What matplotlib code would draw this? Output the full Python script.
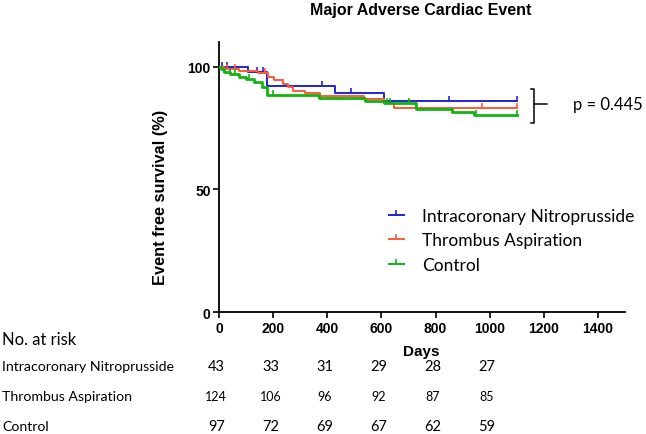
import numpy as np
import matplotlib.pyplot as plt
import matplotlib.transforms as mtransforms
from matplotlib.lines import Line2D

# ---- data ----
groups = ['Intracoronary Nitroprusside', 'Thrombus Aspiration', 'Control']
colors = ['#2323d8', '#ff5a36', '#12b312']

blue_t = [0, 108, 178, 430, 608, 1100]
blue_s = [100, 97.7, 92.0, 89.4, 86.0, 86.0]
blue_cens = [10, 28, 140, 164, 380, 487, 848, 1100]

orange_t = [0, 20, 75, 144, 181, 205, 236, 254, 273, 316, 374, 534, 608, 645, 1100]
orange_s = [100, 99.2, 98.4, 97.5, 95.8, 94.5, 93.1, 91.5, 90.0, 89.2, 88.2, 87.0, 85.0, 83.3, 83.3]
orange_cens = [30, 60, 170, 972, 1100]

green_t = [0, 8, 20, 40, 75, 100, 130, 158, 179, 368, 540, 608, 726, 860, 942, 1100]
green_s = [100, 99.0, 97.9, 96.9, 95.9, 94.8, 93.8, 91.5, 88.4, 87.2, 86.0, 85.2, 82.8, 81.5, 80.1, 80.1]
green_cens = [40, 60, 110, 200, 622, 633, 701, 726, 948, 1100]

risk_days = [0, 200, 400, 600, 800, 1000]
risk_nitro = [43, 33, 31, 29, 28, 27]
risk_aspir = [124, 106, 96, 92, 87, 85]
risk_ctrl = [97, 72, 69, 67, 62, 59]

p_text = 'p = 0.445'

# ---- figure ----
W, H = 646, 435
fig = plt.figure(figsize=(W / 100, H / 100), dpi=100)
ax = fig.add_axes([219 / W, 1 - 313.3 / H, 406 / W, 270.3 / H])

tick_up = [(0, 0), (0, 1)]   # censor mark pointing up


def step_val(t, s, x):
    i = np.searchsorted(t, x, side='right') - 1
    return np.asarray(s)[i]


curves = [(blue_t, blue_s, blue_cens), (orange_t, orange_s, orange_cens),
          (green_t, green_s, green_cens)]
widths = [1.4, 1.4, 2.0]
for (t, s, c), col, lw in zip(curves, colors, widths):
    ax.step(t, s, where='post', color=col, lw=lw, zorder=3)
    ax.plot(c, step_val(t, s, c), ls='none', marker=tick_up, ms=6.5,
            mew=1.2, color=col, zorder=3)

ax.set_xlim(0, 1500)
ax.set_ylim(0, 110)
ax.set_xticks([0, 200, 400, 600, 800, 1000, 1200, 1400])
ax.set_yticks([0, 50, 100])
for sp in ['top', 'right']:
    ax.spines[sp].set_visible(False)
for sp in ['left', 'bottom']:
    ax.spines[sp].set_linewidth(1.3)
ax.tick_params(width=1.2, length=4, labelsize=10, pad=2)
for lab in ax.get_xticklabels() + ax.get_yticklabels():
    lab.set_fontweight('bold')
    lab.set_fontfamily('Liberation Sans')

ax.set_xlabel('Days', fontsize=11, fontweight='bold', family='Liberation Sans')
ax.xaxis.set_label_coords(0.497, -0.117)
ax.set_ylabel('Event free survival (%)', fontsize=11.8, fontweight='bold',
              family='Liberation Sans')
ax.yaxis.set_label_coords(-0.125, 0.43)

fig.text(421 / W, 1 - 10 / H, 'Major Adverse Cardiac Event', ha='center',
         va='center', fontsize=11.5, fontweight='bold', family='Liberation Sans')

# legend
handles = [Line2D([0], [0], color=c, lw=1.4, marker=tick_up, ms=6.5, mew=1.2)
           for c in colors]
ax.legend(handles, groups, loc='upper left', bbox_to_anchor=(380 / W, 1 - 200 / H),
          bbox_transform=fig.transFigure, frameon=False, numpoints=1,
          handlelength=0.9, handletextpad=1.0, labelspacing=0.5, borderpad=0,
          prop={'family': 'Lato', 'size': 12.5})

# p value bracket
bx = 1163
ax.plot([bx - 12, bx, bx, bx - 12], [91.0, 91.0, 77.2, 77.2], color='black',
        lw=1.1, clip_on=False)
ax.plot([bx, bx + 48], [84.9, 84.9], color='black', lw=1.1, clip_on=False)
fig.text(573 / W, 1 - 105 / H, p_text, ha='left', va='center', fontsize=12,
         family='Lato')

# number at risk table (columns follow the day axis)
fig.text(2 / W, 1 - 340 / H, 'No. at risk', ha='left', va='center',
         fontsize=12, family='Lato')
trans = mtransforms.blended_transform_factory(ax.transData, fig.transFigure)
rows = [(groups[0], risk_nitro, 367, 10.5), (groups[1], risk_aspir, 397, 9),
        (groups[2], risk_ctrl, 427, 10.5)]
for name, vals, y, fs in rows:
    fig.text(2 / W, 1 - y / H, name, ha='left', va='center', fontsize=10.2,
             family='Lato')
    for d, v in zip(risk_days, vals):
        ax.text(d - 10, 1 - y / H, str(v), transform=trans, ha='center',
                va='center', fontsize=fs, family='Lato', clip_on=False)

fig.savefig('out.png', dpi=100)
